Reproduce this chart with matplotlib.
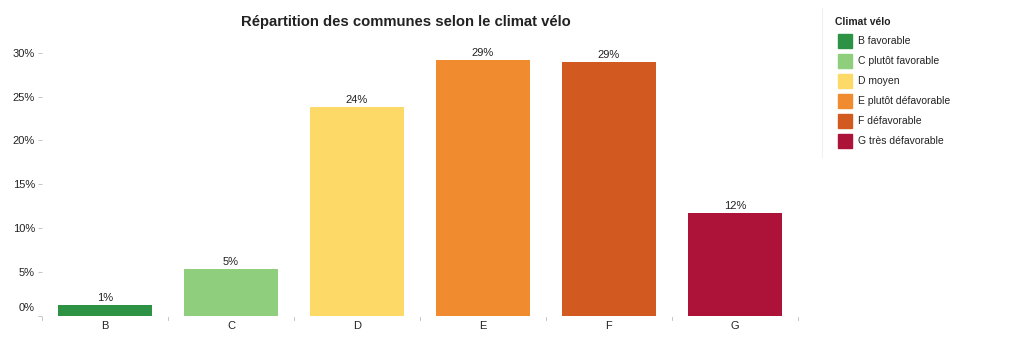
import matplotlib
matplotlib.use("Agg")
import matplotlib.pyplot as plt
from matplotlib.patches import Rectangle
from matplotlib.lines import Line2D
from matplotlib.transforms import ScaledTranslation

plt.rcParams['font.family'] = ['Liberation Sans', 'DejaVu Sans']

categories = ["B", "C", "D", "E", "F", "G"]
shares = [1.15, 5.3, 23.8, 29.2, 28.9, 11.7]
value_labels = ["1%", "5%", "24%", "29%", "29%", "12%"]
legend_labels = ["B favorable", "C plutôt favorable", "D moyen",
                 "E plutôt défavorable", "F défavorable", "G très défavorable"]
colors = ["#2e9244", "#8ece7d", "#fdd967", "#f08b30", "#d25a21", "#ad1238"]
y_ticks = [0, 5, 10, 15, 20, 25, 30]
y_tick_labels = ["0%", "5%", "10%", "15%", "20%", "25%", "30%"]

W, H = 1015, 339
fig = plt.figure(figsize=(W / 100, H / 100), dpi=100)

left, right = 42, 798
y0_px, ytop_px = 315.5, 44
ymax = 31
ax = fig.add_axes([left / W, 1 - y0_px / H, (right - left) / W, (y0_px - ytop_px) / H])

x = list(range(len(categories)))
ax.bar(x, shares, width=0.75, color=colors, zorder=2)
for xi, v, lab in zip(x, shares, value_labels):
    ax.text(xi, v + 0.25, lab, ha="center", va="bottom", fontsize=8, color="#222222")

ax.set_xlim(-0.5, len(categories) - 0.5)
ax.set_ylim(0, ymax)

for s in ax.spines.values():
    s.set_visible(False)

ax.set_yticks(y_ticks)
ax.set_yticklabels(y_tick_labels)
ax.tick_params(axis="y", length=3, width=0.6, color="#bbbbbb", pad=2,
               labelsize=8, labelcolor="#222222")
# lift the zero label slightly above the baseline
zero_lbl = ax.get_yticklabels()[0]
zero_lbl.set_transform(zero_lbl.get_transform() +
                       ScaledTranslation(0, 6 / 72, fig.dpi_scale_trans))

ax.set_xticks(x)
ax.set_xticklabels(categories)
ax.tick_params(axis="x", length=0, pad=4, labelsize=8, labelcolor="#222222")

# separators between category bands
for b in range(len(categories) + 1):
    ax.plot([b - 0.5, b - 0.5], [-0.15, -0.55], color="#bbbbbb", lw=0.6,
            clip_on=False, zorder=1)

fig.text(406 / W, 1 - 22 / H, "Répartition des communes selon le climat vélo",
         ha="center", va="center", fontsize=10.7, fontweight="bold", color="#222222")

# legend panel
fig.add_artist(Line2D([822 / W, 822 / W], [1 - 8 / H, 1 - 157 / H],
                      color="#f0f0f0", lw=0.8))
fig.text(835 / W, 1 - 22 / H, "Climat vélo", ha="left", va="center",
         fontsize=7.5, fontweight="bold", color="#222222")
for i, (lab, c) in enumerate(zip(legend_labels, colors)):
    yc = 41 + 20 * i
    fig.add_artist(Rectangle((838 / W, 1 - (yc + 7) / H), 14 / W, 14 / H,
                             color=c, transform=fig.transFigure))
    fig.text(858 / W, 1 - yc / H, lab, ha="left", va="center",
             fontsize=7.5, color="#222222")

fig.savefig("out.png", dpi=100, facecolor="white")
